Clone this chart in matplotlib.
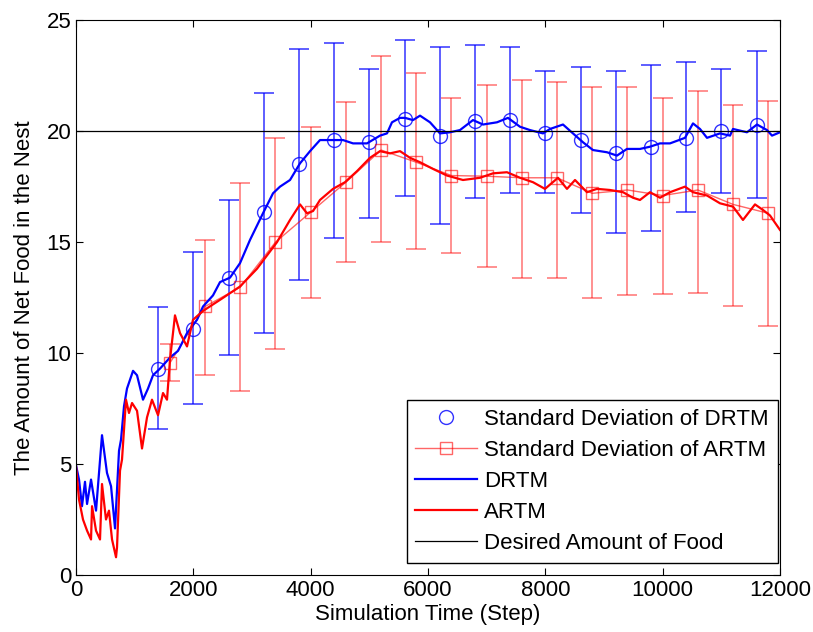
import matplotlib
matplotlib.use("Agg")
import matplotlib.pyplot as plt

plt.rcParams['font.family'] = ['Liberation Sans', 'DejaVu Sans']

# DRTM trace
drtm_t = [0, 51, 102, 153, 188, 256, 341, 443, 528, 597, 665, 733, 767, 818, 869,
          972, 1040, 1142, 1227, 1312, 1432, 1602, 1739, 1892, 2062, 2165, 2335, 2455,
          2625, 2795, 2966, 3187, 3358, 3477, 3648, 3818, 3989, 4159, 4381, 4551, 4722,
          4960, 5182, 5301, 5386, 5523, 5608, 5744, 5864, 6034, 6204, 6375, 6545, 6767,
          6937, 7176, 7363, 7568, 7738, 7960, 8080, 8301, 8471, 8642, 8812, 9051, 9221,
          9392, 9613, 9784, 9955, 10125, 10381, 10517, 10636, 10756, 10977, 11148, 11199,
          11437, 11608, 11778, 11864, 12000]
drtm_v = [4.95, 4.3, 3.1, 4.2, 3.2, 4.3, 2.9, 6.3, 4.6, 4.0, 2.1, 5.6, 6.1, 7.6, 8.4,
          9.2, 9.0, 7.9, 8.4, 9.0, 9.3, 9.8, 10.1, 10.9, 11.5, 12.1, 12.6, 13.2,
          13.4, 14.05, 15.1, 16.3, 17.2, 17.5, 17.8, 18.55, 19.1, 19.6, 19.6, 19.6, 19.45,
          19.45, 19.8, 19.9, 20.4, 20.6, 20.6, 20.5, 20.7, 20.4, 19.9, 19.95, 20.05, 20.5,
          20.3, 20.4, 20.6, 20.2, 20.05, 19.9, 20.1, 20.3, 19.9, 19.5, 19.15, 19.05, 18.9,
          19.2, 19.2, 19.3, 19.45, 19.45, 19.7, 20.35, 20.1, 19.7, 19.9, 19.8, 20.1,
          19.95, 20.3, 20.05, 19.8, 19.95]

# ARTM trace
artm_t = [0, 51, 119, 188, 256, 273, 341, 409, 443, 511, 562, 614, 682, 699, 750, 784,
          852, 903, 955, 1040, 1125, 1210, 1295, 1398, 1483, 1551, 1602, 1687, 1773, 1892,
          1994, 2165, 2455, 2795, 3085, 3426, 3648, 3818, 3937, 4040, 4159, 4381, 4585,
          4790, 5011, 5182, 5352, 5523, 5693, 5864, 6085, 6324, 6596, 6886, 7108, 7346,
          7568, 7790, 7994, 8216, 8369, 8506, 8710, 8880, 9102, 9324, 9494, 9613, 9784,
          9955, 10125, 10381, 10517, 10756, 10977, 11199, 11369, 11574, 11710, 11830, 12000]
artm_v = [4.9, 3.4, 2.5, 2.0, 1.6, 3.1, 2.0, 1.6, 4.1, 2.5, 2.9, 1.6, 0.8, 1.25, 4.7, 5.2,
          7.9, 7.3, 7.75, 7.4, 5.7, 7.1, 7.9, 7.2, 8.2, 7.9, 9.7, 11.7, 10.9, 10.3,
          11.5, 11.9, 12.4, 13.0, 13.8, 15.0, 16.0, 16.7, 16.3, 16.4, 16.9, 17.4, 17.7,
          18.2, 18.8, 19.1, 19.0, 19.1, 18.8, 18.6, 18.3, 18.0, 17.8, 17.9, 18.1, 18.15,
          17.9, 17.7, 17.4, 17.9, 17.4, 17.8, 17.25, 17.4, 17.35, 17.25, 17.0, 16.9, 17.25,
          17.0, 17.25, 17.5, 17.25, 17.1, 16.75, 16.6, 16.0, 16.7, 16.45, 16.2, 15.55]

# standard deviation samples
drtm_sd_t = [1400, 2000, 2600, 3200, 3800, 4400, 5000, 5600, 6200, 6800, 7400, 8000,
             8600, 9200, 9800, 10400, 11000, 11600]
drtm_sd_mean = [9.3, 11.1, 13.4, 16.35, 18.5, 19.6, 19.5, 20.55, 19.8, 20.45, 20.5, 19.9,
                19.6, 19.0, 19.3, 19.7, 20.0, 20.3]
drtm_sd_hi = [12.07, 14.55, 16.9, 21.7, 23.7, 23.96, 22.8, 24.1, 23.8, 23.9, 23.8, 22.7,
              22.9, 22.7, 23.0, 23.1, 22.8, 23.6]
drtm_sd_lo = [6.58, 7.7, 9.9, 10.9, 13.3, 15.2, 16.1, 17.1, 15.8, 17.0, 17.2, 17.2,
              16.3, 15.4, 15.5, 16.35, 17.2, 17.0]

artm_sd_t = [1600, 2200, 2800, 3400, 4000, 4600, 5200, 5800, 6400, 7000, 7600, 8200,
             8800, 9400, 10000, 10600, 11200, 11800]
artm_sd_mean = [9.55, 12.1, 12.97, 15.0, 16.35, 17.7, 19.15, 18.6, 18.0, 17.97, 17.9, 17.9,
                17.2, 17.35, 17.1, 17.35, 16.7, 16.3]
artm_sd_hi = [10.4, 15.1, 17.65, 19.7, 20.2, 21.3, 23.4, 22.6, 21.5, 22.1, 22.3, 22.2,
              22.0, 22.0, 21.5, 21.8, 21.2, 21.35]
artm_sd_lo = [8.75, 9.0, 8.3, 10.2, 12.5, 14.1, 15.0, 14.7, 14.5, 13.9, 13.4, 13.4,
              12.5, 12.6, 12.65, 12.7, 12.1, 11.2]

desired = 20

fig = plt.figure(figsize=(8.13, 6.32), dpi=100)
ax = fig.add_axes([0.0935, 0.0902, 0.8659, 0.8778])

d_err = [[m - l for m, l in zip(drtm_sd_mean, drtm_sd_lo)],
         [h - m for m, h in zip(drtm_sd_mean, drtm_sd_hi)]]
a_err = [[m - l for m, l in zip(artm_sd_mean, artm_sd_lo)],
         [h - m for m, h in zip(artm_sd_mean, artm_sd_hi)]]

ax.errorbar(drtm_sd_t, drtm_sd_mean, yerr=d_err, fmt='none', ecolor='#0000ff',
            elinewidth=1.1, capsize=7, capthick=1.1, alpha=0.8)
ax.errorbar(artm_sd_t, artm_sd_mean, yerr=a_err, fmt='none', ecolor='#ff0000',
            elinewidth=1.1, capsize=7, capthick=1.1, alpha=0.55)

ax.plot(drtm_sd_t, drtm_sd_mean, 'o', color='#0000ff', mfc='none', ms=10, mew=1.0,
        alpha=0.8, label='Standard Deviation of DRTM')
ax.plot(artm_sd_t, artm_sd_mean, 's-', color='#ff0000', mfc='none', ms=9, mew=1.0,
        lw=1.0, alpha=0.6, label='Standard Deviation of ARTM')

ax.plot(drtm_t, drtm_v, color='#0000ff', lw=1.6, label='DRTM')
ax.plot(artm_t, artm_v, color='#ff0000', lw=1.6, label='ARTM')
ax.axhline(desired, color='black', lw=0.9, label='Desired Amount of Food')

ax.set_xlim(0, 12000)
ax.set_ylim(0, 25)
ax.set_xticks(range(0, 12001, 2000))
ax.set_yticks(range(0, 26, 5))
ax.tick_params(direction='in', top=True, right=True, length=5, labelsize=16)
ax.set_xlabel('Simulation Time (Step)', fontsize=16, labelpad=2)
ax.set_ylabel('The Amount of Net Food in the Nest', fontsize=16, labelpad=8)

leg = ax.legend(loc='lower right', bbox_to_anchor=(0.997, 0.0216), borderaxespad=0,
                fontsize=16, frameon=True, fancybox=False,
                edgecolor='black', framealpha=1, handlelength=2.75, handletextpad=0.35,
                labelspacing=0.45, borderpad=0.4)
leg.get_frame().set_linewidth(1.0)

fig.savefig('out.png', dpi=100)
